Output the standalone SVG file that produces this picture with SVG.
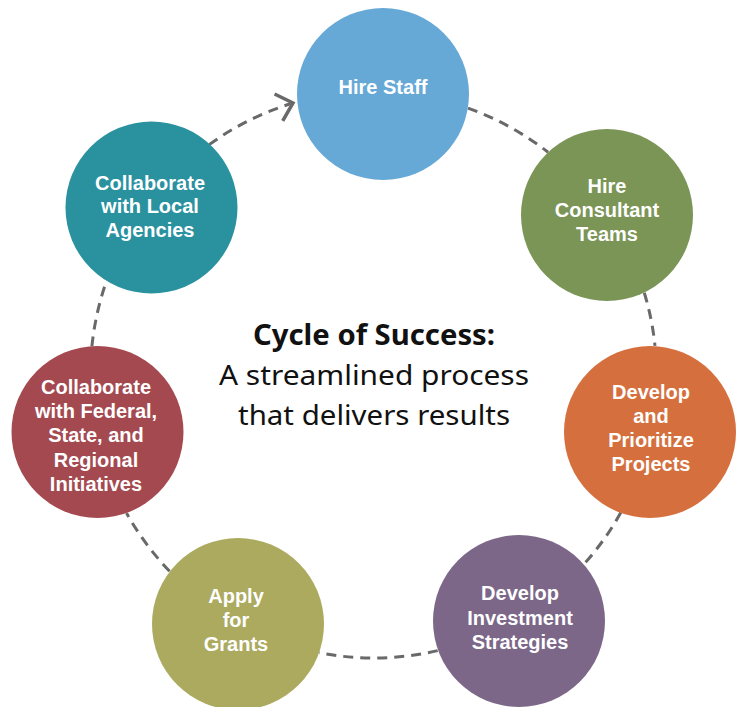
<svg xmlns="http://www.w3.org/2000/svg" width="741" height="707" viewBox="0 0 741 707">
  <style>
    .ring { fill: none; stroke: #696969; stroke-width: 3; stroke-dasharray: 10 7; }
    .node text { fill: #ffffff; font-family: "Liberation Sans", Arial, sans-serif; font-weight: bold; font-size: 20px; text-anchor: middle; }
    .title { fill: #111111; font-family: "Noto Sans", Lato, sans-serif; font-size: 28px; text-anchor: middle; }
  </style>
  <defs>
    <marker id="chev" markerUnits="userSpaceOnUse" viewBox="-20 -20 26 40" refX="0" refY="0" markerWidth="26" markerHeight="40" orient="auto">
      <path d="M-15,-14 L0,0 L-15,14" fill="none" stroke="#696969" stroke-width="3.5" stroke-linejoin="miter"/>
    </marker>
  </defs>
  <rect width="741" height="707" fill="#ffffff"/>

  <g id="connectors">
    <path class="ring" d="M468.0,108.2 A283,283 0 0 1 548.1,152.3"/>
    <path class="ring" d="M644.3,292.7 A283,283 0 0 1 655.0,345.9"/>
    <path class="ring" d="M620.8,512.6 A283,283 0 0 1 584.1,564.0"/>
    <path class="ring" d="M437.7,650.6 A283,283 0 0 1 319.0,652.7"/>
    <path class="ring" d="M169.6,571.2 A283,283 0 0 1 126.5,513.1"/>
    <path class="ring" d="M91.9,346.4 A283,283 0 0 1 106.7,280.5"/>
    <path class="ring" d="M209.2,144.6 A283,283 0 0 1 293,103" marker-end="url(#chev)"/>
  </g>

  <g id="hire-staff" class="node">
    <circle cx="383" cy="94" r="86" fill="#66A8D6"/>
    <text x="383" y="94">Hire Staff</text>
  </g>
  <g id="hire-consultant-teams" class="node">
    <circle cx="607" cy="215" r="86" fill="#7A9555"/>
    <text x="607" y="193">Hire</text>
    <text x="607" y="217">Consultant</text>
    <text x="607" y="241">Teams</text>
  </g>
  <g id="develop-prioritize-projects" class="node">
    <circle cx="650" cy="432" r="86" fill="#D5703E"/>
    <text x="651" y="399">Develop</text>
    <text x="651" y="423">and</text>
    <text x="651" y="447">Prioritize</text>
    <text x="651" y="471">Projects</text>
  </g>
  <g id="develop-investment-strategies" class="node">
    <circle cx="519" cy="621" r="86" fill="#7C6789"/>
    <text x="520" y="600">Develop</text>
    <text x="520" y="625">Investment</text>
    <text x="520" y="649">Strategies</text>
  </g>
  <g id="apply-for-grants" class="node">
    <circle cx="238" cy="624" r="86" fill="#ABAA5F"/>
    <text x="236" y="603">Apply</text>
    <text x="236" y="627">for</text>
    <text x="236" y="651">Grants</text>
  </g>
  <g id="collaborate-federal" class="node">
    <circle cx="97.5" cy="432" r="86" fill="#A4494F"/>
    <text x="96" y="394">Collaborate</text>
    <text x="96" y="418">with Federal,</text>
    <text x="96" y="442">State, and</text>
    <text x="96" y="467">Regional</text>
    <text x="96" y="491">Initiatives</text>
  </g>
  <g id="collaborate-local" class="node">
    <circle cx="151.5" cy="207.5" r="86" fill="#2A919F"/>
    <text x="150" y="190">Collaborate</text>
    <text x="150" y="213">with Local</text>
    <text x="150" y="237">Agencies</text>
  </g>

  <g id="center-label">
    <text class="title" x="374" y="345" font-weight="bold" textLength="242" lengthAdjust="spacingAndGlyphs">Cycle of Success:</text>
    <text class="title" x="374" y="385" textLength="310" lengthAdjust="spacingAndGlyphs">A streamlined process</text>
    <text class="title" x="374" y="425" textLength="272" lengthAdjust="spacingAndGlyphs">that delivers results</text>
  </g>
</svg>
